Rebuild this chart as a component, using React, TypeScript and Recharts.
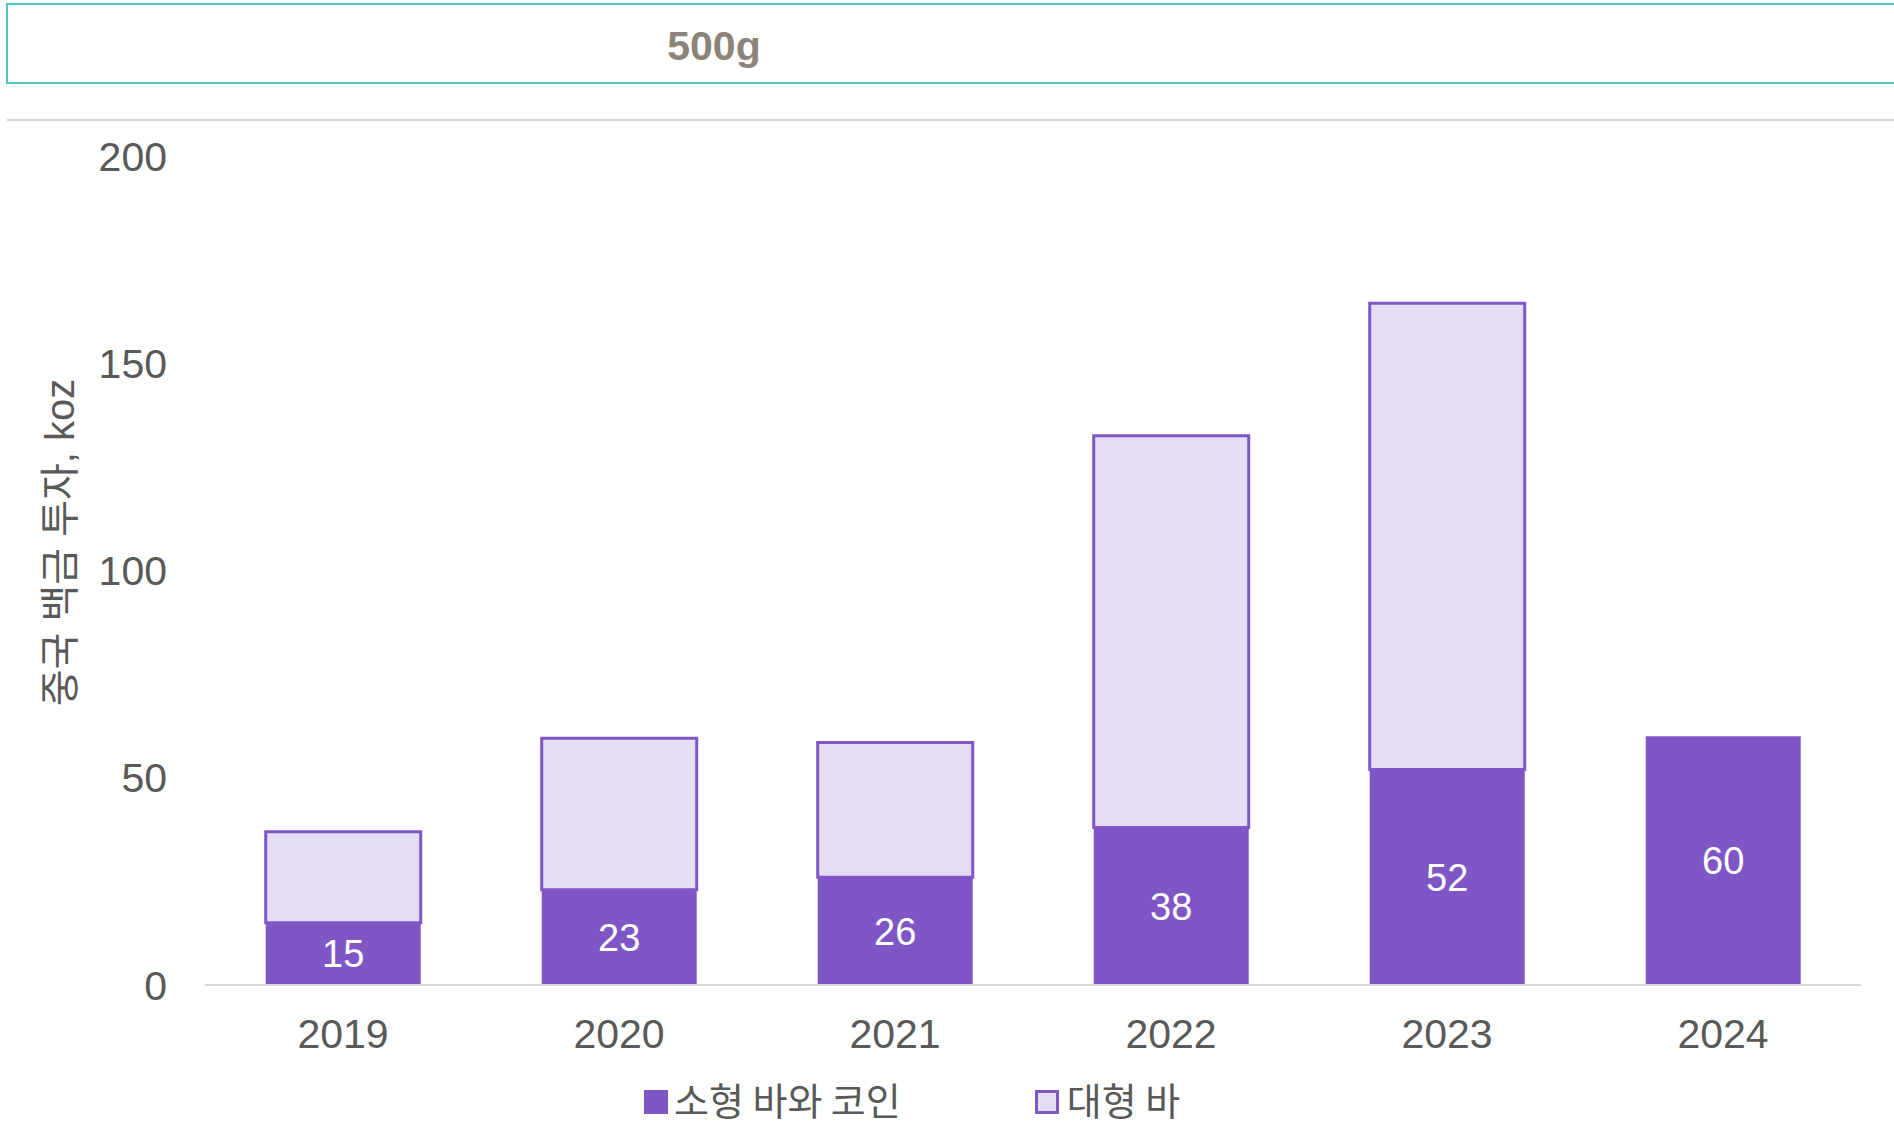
import { Bar, BarChart, LabelList, XAxis, YAxis } from "recharts";

const years = ["2019", "2020", "2021", "2022", "2023", "2024"];
const smallBarsCoins = [15, 23, 26, 38, 52, 60];
const largeBars = [22, 36.5, 32.5, 94.5, 112.5, 0];
const yTicks = [0, 50, 100, 150, 200];

const SMALL_NAME = "소형 바와 코인";
const LARGE_NAME = "대형 바";
const DARK = "#7f56c6";
const LIGHT = "#e4ddf3";
const FONT = "'Liberation Sans', Arial, 'Noto Sans CJK KR', sans-serif";

const data = years.map((year, i) => ({
  year,
  small: smallBarsCoins[i],
  large: largeBars[i] || null,
}));

export default function App() {
  return (
    <div style={{ position: "absolute", left: 0, top: 0, width: 1894, height: 1128, background: "#fff", fontFamily: FONT, overflow: "hidden" }}>
      <div
        style={{
          position: "absolute",
          left: 6,
          top: 3,
          width: 1900,
          height: 81,
          border: "2px solid #4fc9bf",
          boxSizing: "border-box",
        }}
      />
      <div
        style={{
          position: "absolute",
          left: 614,
          width: 200,
          top: 21,
          textAlign: "center",
          fontSize: 41,
          fontWeight: 700,
          color: "#8b8478",
          lineHeight: "50px",
        }}
      >
        500g
      </div>
      <div style={{ position: "absolute", left: 7, right: 0, top: 119, height: 2, background: "#d4d4d4" }} />

      <div style={{ position: "absolute", left: 0, top: 0 }}>
        <BarChart
          width={1894}
          height={1128}
          data={data}
          margin={{ top: 156, right: 33, bottom: 113, left: 0 }}
          barCategoryGap="22%"
        >
          <XAxis
            dataKey="year"
            axisLine={{ stroke: "#d9d9d9", strokeWidth: 2 }}
            tickLine={false}
            tickMargin={28}
            tick={{ fill: "#595959", fontSize: 41, fontFamily: FONT }}
          />
          <YAxis
            width={205}
            domain={[0, 200]}
            ticks={yTicks}
            axisLine={false}
            tickLine={false}
            tickMargin={32}
            tick={{ fill: "#595959", fontSize: 41, fontFamily: FONT }}
            label={{
              content: ({ viewBox }: any) => (
                <text
                  x={viewBox.x + 60}
                  y={viewBox.y + viewBox.height / 2 - 28}
                  transform={`rotate(-90, ${viewBox.x + 60}, ${viewBox.y + viewBox.height / 2 - 28})`}
                  textAnchor="middle"
                  dominantBaseline="central"
                  fill="#595959"
                  fontSize={40}
                  fontFamily={FONT}
                >
                  중국 백금 투자, koz
                </text>
              ),
            }}
          />
          <Bar dataKey="small" name={SMALL_NAME} stackId="a" fill={DARK} isAnimationActive={false}>
            <LabelList dataKey="small" position="center" fill="#ffffff" fontSize={38} fontFamily={FONT} />
          </Bar>
          <Bar
            dataKey="large"
            name={LARGE_NAME}
            stackId="a"
            fill={LIGHT}
            stroke={DARK}
            strokeWidth={3}
            isAnimationActive={false}
          />
        </BarChart>
      </div>

      <div
        style={{
          position: "absolute",
          top: 1071,
          left: 644,
          display: "flex",
          alignItems: "center",
          fontSize: 38,
          color: "#595959",
          fontFamily: "'Noto Sans CJK KR', sans-serif",
          lineHeight: "normal",
          whiteSpace: "nowrap",
        }}
      >
        <span style={{ width: 24, height: 24, background: DARK, marginRight: 6, marginTop: 6, display: "inline-block" }} />
        <span>{SMALL_NAME}</span>
        <span
          style={{
            width: 18,
            height: 18,
            background: LIGHT,
            border: `3px solid ${DARK}`,
            marginLeft: 134,
            marginRight: 8,
            marginTop: 6,
            display: "inline-block",
          }}
        />
        <span>{LARGE_NAME}</span>
      </div>
    </div>
  );
}
